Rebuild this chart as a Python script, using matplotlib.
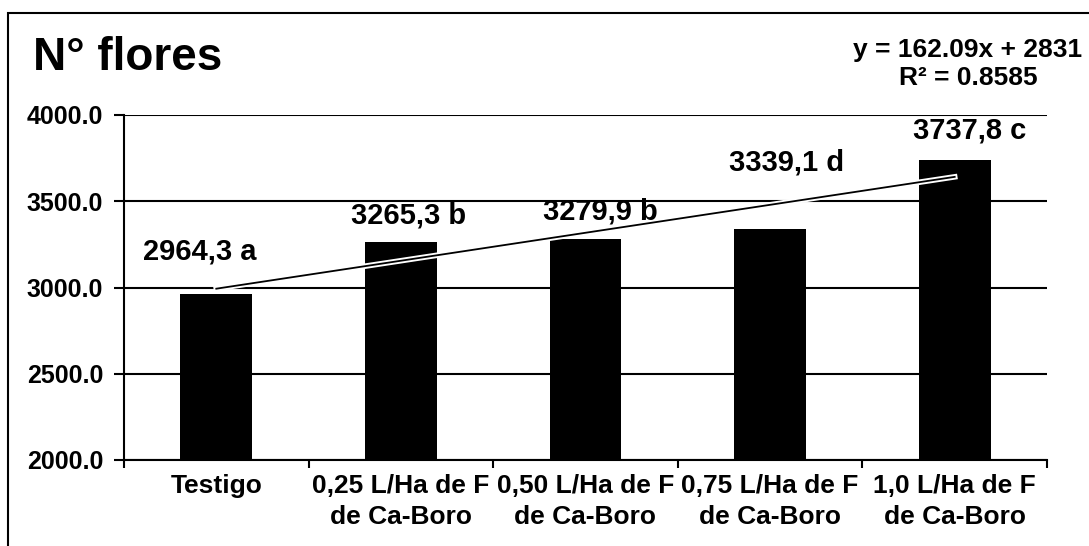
import matplotlib
matplotlib.use("Agg")
import matplotlib.pyplot as plt
import matplotlib.patheffects as pe
from matplotlib.patches import Rectangle
import numpy as np

plt.rcParams['font.family'] = ['Liberation Sans', 'DejaVu Sans']
plt.rcParams['font.weight'] = 'bold'

categories = ["Testigo", "0,25 L/Ha de F\nde Ca-Boro", "0,50 L/Ha de F\nde Ca-Boro",
              "0,75 L/Ha de F\nde Ca-Boro", "1,0 L/Ha de F\nde Ca-Boro"]
values = [2964.3, 3265.3, 3279.9, 3339.1, 3737.8]
letters = ["a", "b", "b", "d", "c"]
label_y = [3206, 3420, 3438, 3722, 3913]
label_dx = [-0.09, 0.04, 0.08, 0.09, 0.08]
slope, intercept = 162.09, 2831
yticks = [2000, 2500, 3000, 3500, 4000]

fig = plt.figure(figsize=(10.89, 5.46), dpi=100)
fig.patches.append(Rectangle((8/1089, -0.05), 1.2, (546-13)/546 + 0.05,
                             transform=fig.transFigure, fill=False,
                             edgecolor='black', linewidth=1.5))
ax = fig.add_axes([124/1089, (546-460)/546, (1047-124)/1089, (460-115)/546])

x = np.arange(len(values))
ax.bar(x, values, width=0.39, color='black', zorder=2)

trend_x = np.array([0, len(values) - 1])
trend_y = slope * (trend_x + 1) + intercept
ax.plot(trend_x, trend_y, color='black', linewidth=1.3, zorder=3,
        path_effects=[pe.Stroke(linewidth=4, foreground='white'), pe.Normal()])

for i, (v, l) in enumerate(zip(values, letters)):
    txt = f"{v:.1f}".replace('.', ',') + " " + l
    ax.text(i + label_dx[i], label_y[i], txt, ha='center', va='center',
            fontsize=21, fontweight='bold', zorder=4)

ax.set_xlim(-0.5, len(values) - 0.5)
ax.set_ylim(2000, 4000)
ax.set_yticks(yticks)
ax.set_yticklabels([f"{t:.1f}" for t in yticks], fontsize=18, fontweight='bold')
ax.yaxis.grid(True, color='black', linewidth=1.5, zorder=0)
ax.set_axisbelow(True)
ax.tick_params(axis='y', length=7, width=1.5, pad=8)

ax.set_xticks(x)
ax.set_xticklabels(categories, fontsize=19, fontweight='bold', linespacing=1.38)
ax.tick_params(axis='x', which='major', length=0, pad=10)
ax.set_xticks(np.arange(-0.5, len(values), 1.0), minor=True)
ax.tick_params(axis='x', which='minor', length=6, width=1.5)

for s in ['top', 'right']:
    ax.spines[s].set_visible(False)
for s in ['left', 'bottom']:
    ax.spines[s].set_linewidth(1.5)

fig.text(33/1089, 1 - 58/546, "N° flores", fontsize=33, fontweight='bold',
         ha='left', va='center')
fig.text(968/1089, 1 - 64/546, f"y = {slope}x + {intercept}\nR² = 0.8585",
         fontsize=19, fontweight='bold', ha='center', va='center', linespacing=1.2)

fig.savefig("out.png", dpi=100)
